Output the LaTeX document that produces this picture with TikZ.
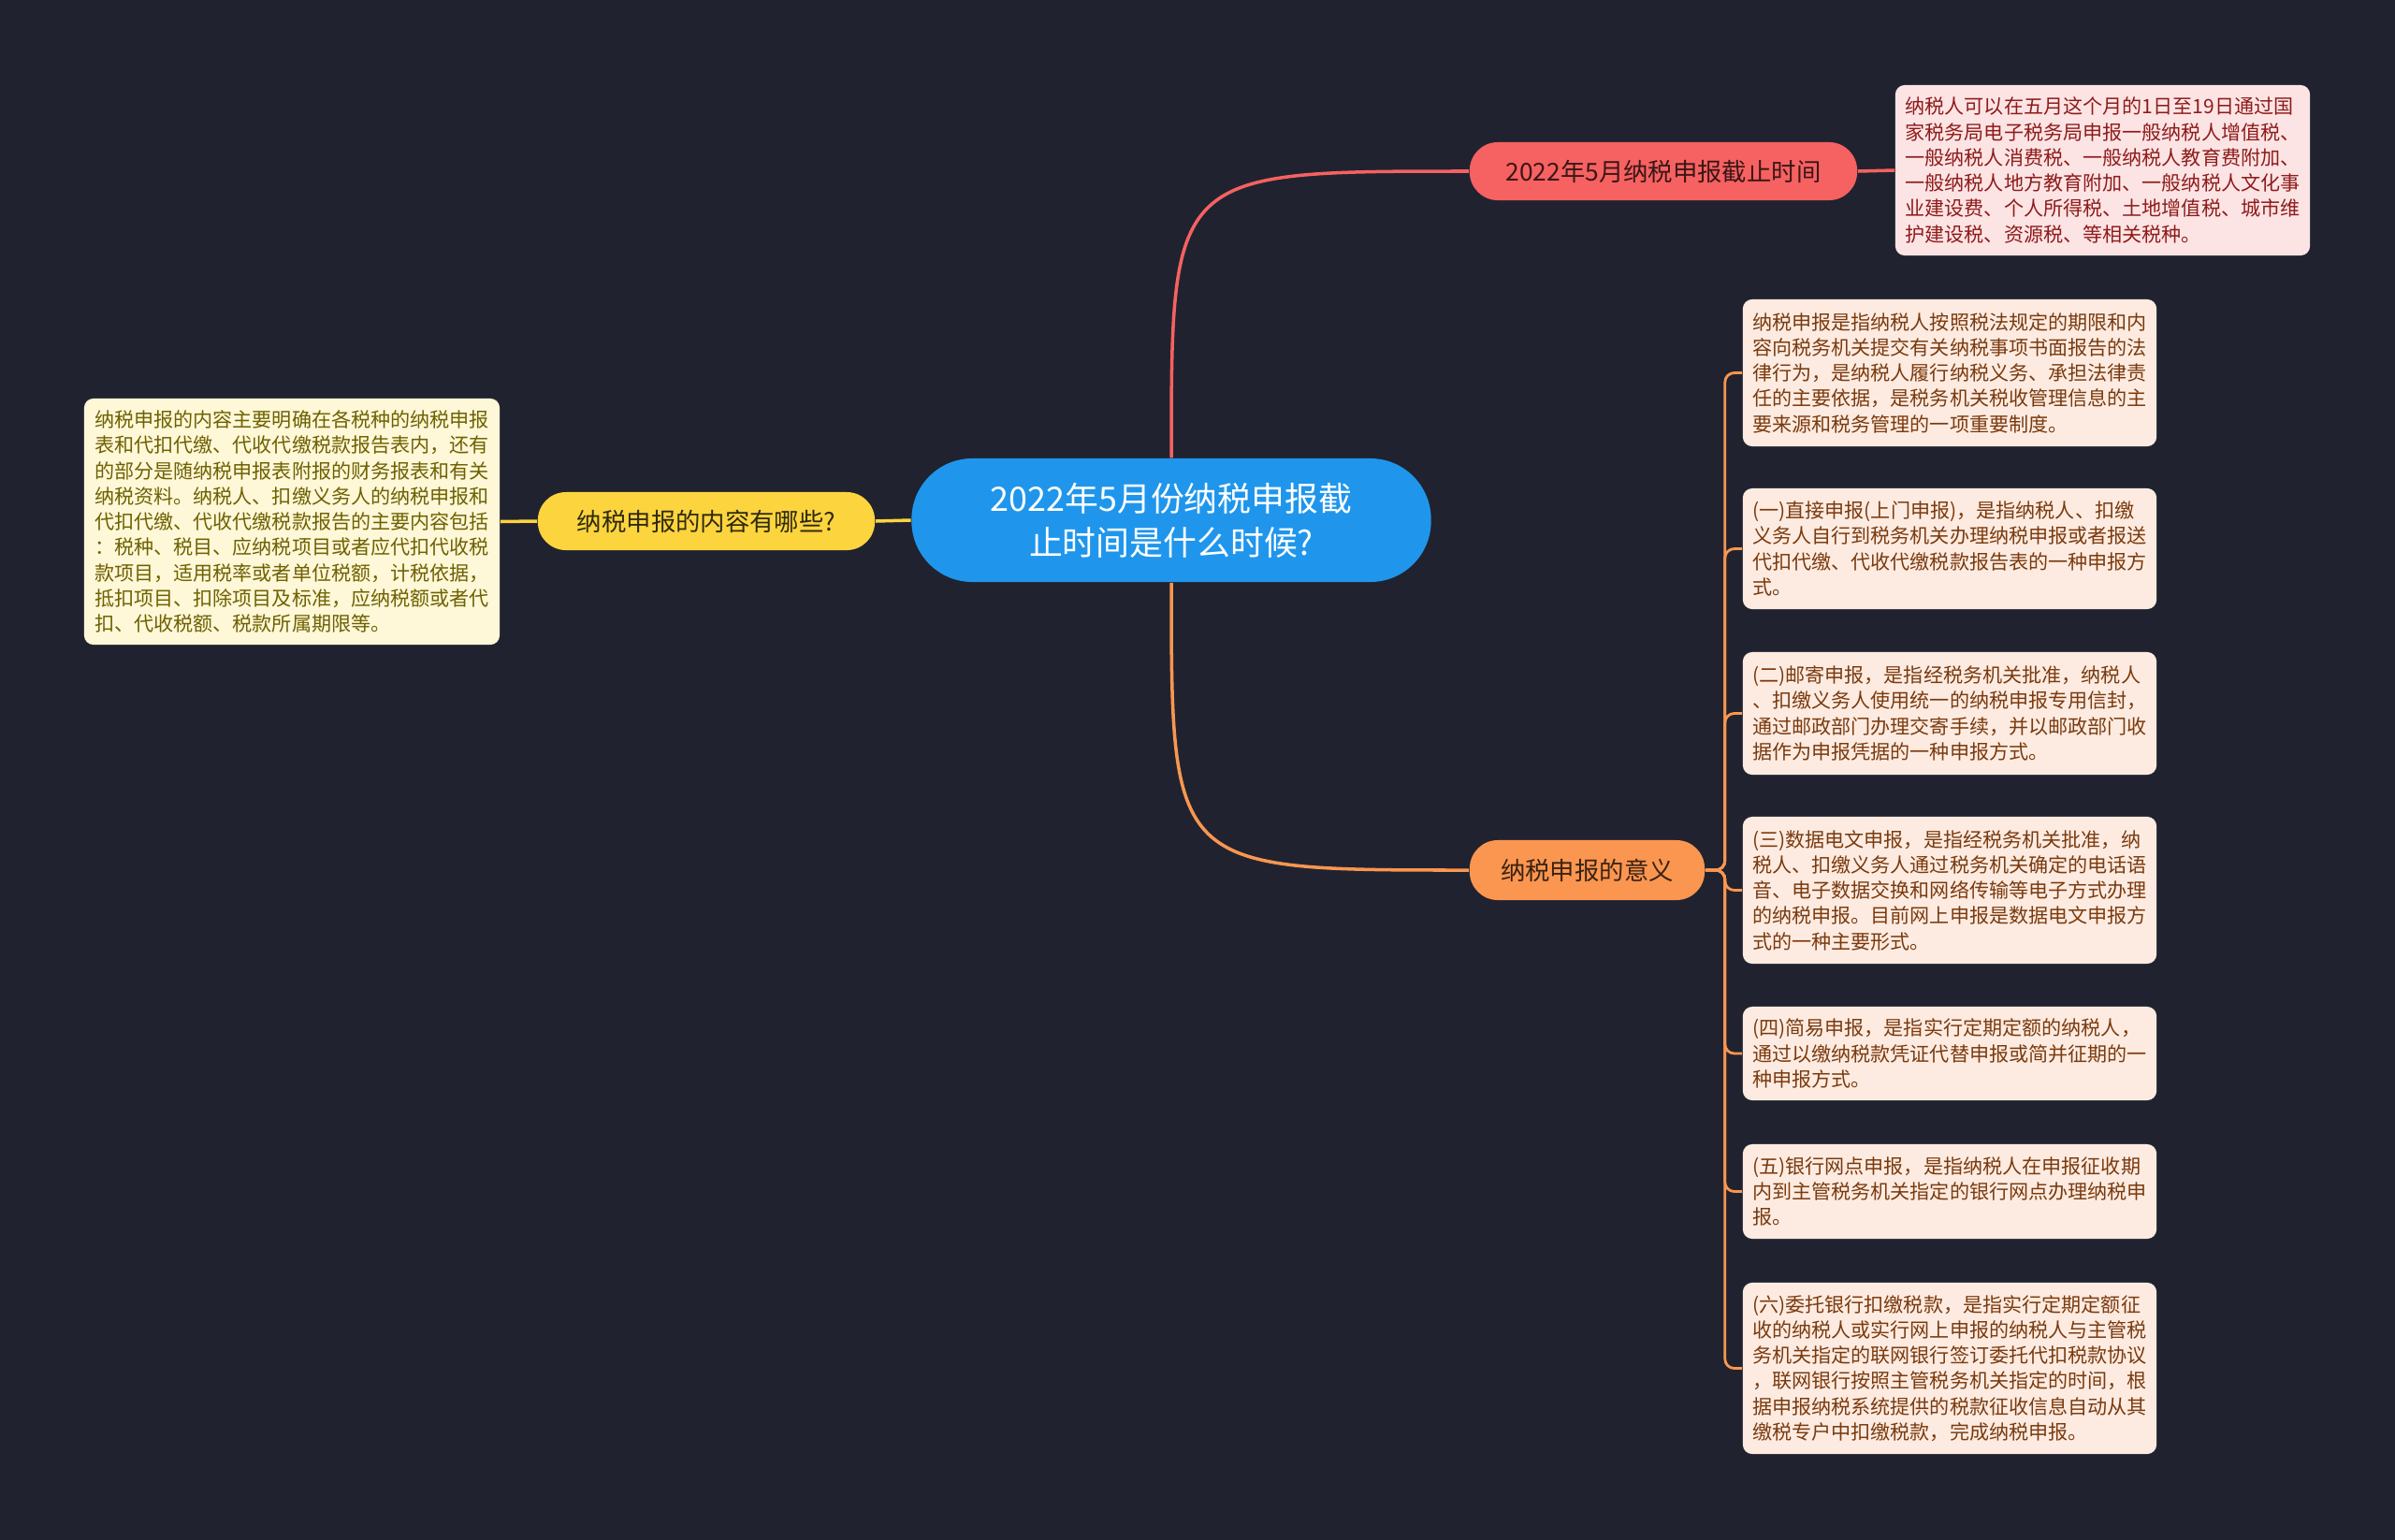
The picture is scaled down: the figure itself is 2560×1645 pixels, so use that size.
\documentclass[tikz,border=0pt]{standalone}
\usepackage{fontspec}
\newfontfamily\cjk{Noto Sans CJK SC}
\usepackage{xcolor}
\usepackage{tikz}
\usetikzlibrary{positioning, calc}

\definecolor{bgdark}{HTML}{20232F}
\definecolor{rootblue}{HTML}{1F96EC}
\definecolor{redmain}{HTML}{F66161}
\definecolor{redleaf}{HTML}{FDE4E4}
\definecolor{redtext}{HTML}{8E1B1B}
\definecolor{reddark}{HTML}{3A1616}
\definecolor{orangemain}{HTML}{FA9650}
\definecolor{orangeleaf}{HTML}{FDEBE1}
\definecolor{orangetext}{HTML}{7A3A0E}
\definecolor{orangedark}{HTML}{3B2212}
\definecolor{yellowmain}{HTML}{FCD43E}
\definecolor{yellowleaf}{HTML}{FEF7D8}
\definecolor{yellowtext}{HTML}{6E6100}
\definecolor{yellowdark}{HTML}{2F2A10}

\begin{document}
\begin{tikzpicture}[x=0.01cm, y=-0.01cm,
    root/.style={fill=rootblue, text=white, rounded corners=0.65cm, minimum width=5.55cm, minimum height=1.32cm, align=center, font=\cjk\fontsize{10.2pt}{13.4pt}\selectfont},
    topic/.style={rounded corners=0.3cm, minimum height=0.62cm, inner xsep=0pt, font=\cjk\fontsize{7.5pt}{9pt}\selectfont},
    leaf/.style={rounded corners=0.1cm, minimum width=4.42cm, align=left, inner xsep=0.1cm, font=\cjk\fontsize{6pt}{7.75pt}\selectfont},
    link/.style={line width=1pt},
    sublink/.style={line width=0.8pt, rounded corners=0.1cm}]

    % Canvas
    \useasboundingbox (0,0) rectangle (2560,1645);
    \fill[bgdark] (-20,-20) rectangle (2580,1665);

    % Root
    \node[root] (root) at (1252,556) {2022年5月份纳税申报截\\止时间是什么时候?};

    % Topics
    \node[topic, fill=redmain, text=reddark, minimum width=4.14cm] (deadline) at (1778,183) {2022年5月纳税申报截止时间};
    \node[topic, fill=orangemain, text=orangedark, minimum width=2.51cm, minimum height=0.64cm] (means) at (1696.5,930) {纳税申报的意义};
    \node[topic, fill=yellowmain, text=yellowdark, minimum width=3.60cm] (content) at (755,557) {纳税申报的内容有哪些?};

    % Deadline detail
    \node[leaf, fill=redleaf, text=redtext, minimum width=4.43cm, minimum height=1.82cm] (deadlineinfo) at (2247.5,182) {纳税人可以在五月这个月的1日至19日通过国\\家税务局电子税务局申报一般纳税人增值税、\\一般纳税人消费税、一般纳税人教育费附加、\\一般纳税人地方教育附加、一般纳税人文化事\\业建设费、个人所得税、土地增值税、城市维\\护建设税、资源税、等相关税种。};

    % Content detail
    \node[leaf, fill=yellowleaf, text=yellowtext, minimum width=4.44cm, minimum height=2.63cm] (contentinfo) at (312,557.5) {纳税申报的内容主要明确在各税种的纳税申报\\表和代扣代缴、代收代缴税款报告表内，还有\\的部分是随纳税申报表附报的财务报表和有关\\纳税资料。纳税人、扣缴义务人的纳税申报和\\代扣代缴、代收代缴税款报告的主要内容包括\\：税种、税目、应纳税项目或者应代扣代收税\\款项目，适用税率或者单位税额，计税依据，\\抵扣项目、扣除项目及标准，应纳税额或者代\\扣、代收税额、税款所属期限等。};

    % Meaning details
    \node[leaf, fill=orangeleaf, text=orangetext, minimum height=1.57cm] (m1) at (2084,398.5) {纳税申报是指纳税人按照税法规定的期限和内\\容向税务机关提交有关纳税事项书面报告的法\\律行为，是纳税人履行纳税义务、承担法律责\\任的主要依据，是税务机关税收管理信息的主\\要来源和税务管理的一项重要制度。};
    \node[leaf, fill=orangeleaf, text=orangetext, minimum height=1.29cm] (m2) at (2084,586.5) {(一)直接申报(上门申报)，是指纳税人、扣缴\\义务人自行到税务机关办理纳税申报或者报送\\代扣代缴、代收代缴税款报告表的一种申报方\\式。};
    \node[leaf, fill=orangeleaf, text=orangetext, minimum height=1.31cm] (m3) at (2084,762.5) {(二)邮寄申报，是指经税务机关批准，纳税人\\、扣缴义务人使用统一的纳税申报专用信封，\\通过邮政部门办理交寄手续，并以邮政部门收\\据作为申报凭据的一种申报方式。};
    \node[leaf, fill=orangeleaf, text=orangetext, minimum height=1.57cm] (m4) at (2084,951.5) {(三)数据电文申报，是指经税务机关批准，纳\\税人、扣缴义务人通过税务机关确定的电话语\\音、电子数据交换和网络传输等电子方式办理\\的纳税申报。目前网上申报是数据电文申报方\\式的一种主要形式。};
    \node[leaf, fill=orangeleaf, text=orangetext, minimum height=1.00cm] (m5) at (2084,1126) {(四)简易申报，是指实行定期定额的纳税人，\\通过以缴纳税款凭证代替申报或简并征期的一\\种申报方式。};
    \node[leaf, fill=orangeleaf, text=orangetext, minimum height=1.01cm] (m6) at (2084,1273.5) {(五)银行网点申报，是指纳税人在申报征收期\\内到主管税务机关指定的银行网点办理纳税申\\报。};
    \node[leaf, fill=orangeleaf, text=orangetext, minimum height=1.83cm] (m7) at (2084,1462.5) {(六)委托银行扣缴税款，是指实行定期定额征\\收的纳税人或实行网上申报的纳税人与主管税\\务机关指定的联网银行签订委托代扣税款协议\\，联网银行按照主管税务机关指定的时间，根\\据申报纳税系统提供的税款征收信息自动从其\\缴税专户中扣缴税款，完成纳税申报。};

    % Branches from root
    \draw[link, redmain] (root.north) .. controls (root.north |- deadline.west) .. (deadline.west);
    \draw[link, orangemain] (root.south) .. controls (root.south |- means.west) .. (means.west);
    \draw[link, yellowmain] (root.west) -- (content.east);

    % Topic to detail
    \draw[link, redmain] (deadline.east) -- (deadlineinfo.west);
    \draw[link, yellowmain] (content.west) -- (contentinfo.east);
    \foreach \i in {1,...,7} {
        \draw[sublink, orangemain] (means.east) -- ++(21,0) |- (m\i.west);
    }
\end{tikzpicture}
\end{document}
